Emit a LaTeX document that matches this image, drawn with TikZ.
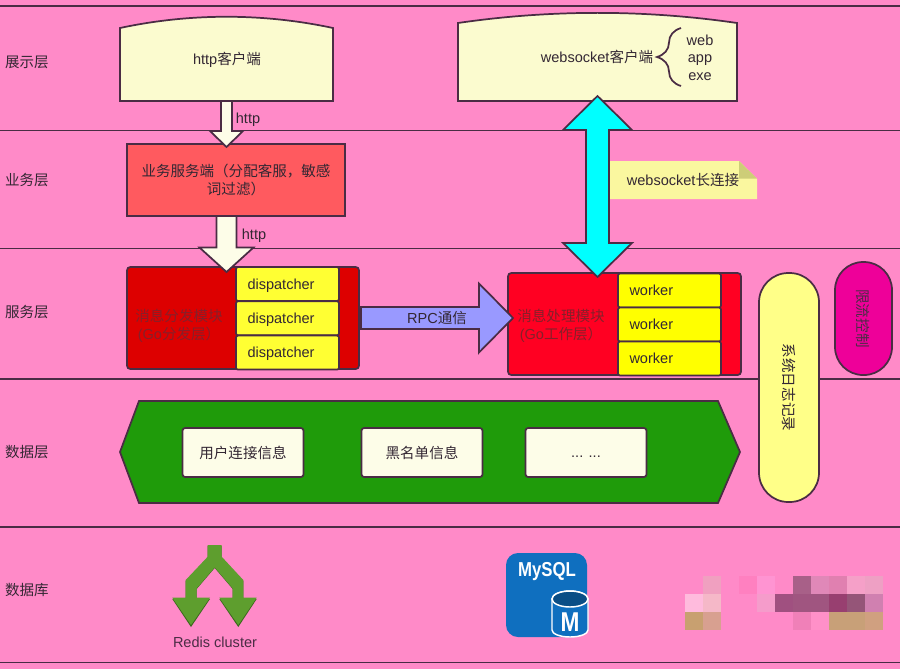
\documentclass[tikz,border=0pt]{standalone}
\usepackage{fontspec}
\setmainfont{Liberation Sans}
\newfontfamily\cjk{Noto Sans CJK SC}
\usetikzlibrary{calc,decorations.pathreplacing}
\definecolor{pinkbg}{HTML}{FF8AC8}
\definecolor{edge}{HTML}{4A2C44}
\definecolor{inkdark}{HTML}{332733}
\definecolor{cream}{HTML}{FBFBCF}
\definecolor{whitish}{HTML}{FDFDE8}
\definecolor{bizred}{HTML}{FF5A5F}
\definecolor{darkred}{HTML}{DD0000}
\definecolor{brightred}{HTML}{FF0022}
\definecolor{redink}{HTML}{85202A}
\definecolor{leafgreen}{HTML}{1F9B0A}
\definecolor{redisgreen}{HTML}{5E9E2E}
\definecolor{mysqlblue}{HTML}{0F6FBF}
\definecolor{softyellow}{HTML}{FFFF33}
\definecolor{pureyellow}{HTML}{FFFF00}
\definecolor{paleyellow}{HTML}{FFFF88}
\definecolor{notefill}{HTML}{FAF79F}
\definecolor{notefold}{HTML}{CDCD78}
\definecolor{aqua}{HTML}{00FFFF}
\definecolor{rpcblue}{HTML}{9999FF}
\definecolor{hotpink}{HTML}{EE0099}
\newcommand{\zh}[1]{{\cjk #1}}
\newcommand{\capbox}[3]{%
    \fill[cream] (#1.north west) .. controls +(#2,-#3) and +(-#2,-#3) .. (#1.north east) -- cycle;
    \draw[border] (#1.south west) -- (#1.north west) .. controls +(#2,-#3) and +(-#2,-#3) .. (#1.north east) -- (#1.south east) -- cycle;}
\tikzset{
    every node/.style={font=\fontsize{10.9}{13.5}\selectfont,text=inkdark,inner sep=0pt,outer sep=0pt},
    border/.style={draw=edge,line width=1.3pt,line join=miter},
    size/.style 2 args={minimum width=#1*0.75pt,minimum height=#2*0.75pt},
    layerline/.style={draw=edge,line width=1.4pt},
    layertext/.style={anchor=west},
    latinline/.style={text height=10pt,text depth=2.5pt},
    modulebox/.style={border,rounded corners=2.5pt},
    cell/.style={border,rounded corners=1.5pt,fill=#1,size={103}{34},latinline,align=left,text width=60pt,inner xsep=8.6pt},
    infobox/.style={border,rounded corners=2pt,fill=whitish,size={121}{49}},
    blockarrow/.style n args={3}{border,to path={
        ($(\tikztostart)!#1*0.75pt!90:(\tikztotarget)$)
        -- ($(\tikztotarget)!#3*0.75pt!(\tikztostart)!#1*0.75pt!90:(\tikztotarget)$)
        -- ($(\tikztotarget)!#3*0.75pt!(\tikztostart)!#2*0.75pt!90:(\tikztotarget)$)
        -- (\tikztotarget)
        -- ($(\tikztotarget)!#3*0.75pt!(\tikztostart)!#2*0.75pt!-90:(\tikztotarget)$)
        -- ($(\tikztotarget)!#3*0.75pt!(\tikztostart)!#1*0.75pt!-90:(\tikztotarget)$)
        -- ($(\tikztostart)!#1*0.75pt!-90:(\tikztotarget)$) -- cycle}},
    bothways/.style n args={3}{border,to path={
        (\tikztostart)
        -- ($(\tikztostart)!#3*0.75pt!(\tikztotarget)!#2*0.75pt!90:(\tikztotarget)$)
        -- ($(\tikztostart)!#3*0.75pt!(\tikztotarget)!#1*0.75pt!90:(\tikztotarget)$)
        -- ($(\tikztotarget)!#3*0.75pt!(\tikztostart)!#1*0.75pt!90:(\tikztotarget)$)
        -- ($(\tikztotarget)!#3*0.75pt!(\tikztostart)!#2*0.75pt!90:(\tikztotarget)$)
        -- (\tikztotarget)
        -- ($(\tikztotarget)!#3*0.75pt!(\tikztostart)!#2*0.75pt!-90:(\tikztotarget)$)
        -- ($(\tikztotarget)!#3*0.75pt!(\tikztostart)!#1*0.75pt!-90:(\tikztotarget)$)
        -- ($(\tikztostart)!#3*0.75pt!(\tikztotarget)!#1*0.75pt!-90:(\tikztotarget)$)
        -- ($(\tikztostart)!#3*0.75pt!(\tikztotarget)!#2*0.75pt!-90:(\tikztotarget)$) -- cycle}},
}
\begin{document}
\begin{tikzpicture}[x=0.75pt,y=-0.75pt]
    \useasboundingbox (0,0) rectangle (900,669);
    \fill[pinkbg] (0,0) rectangle (900,669);
    \foreach \yy in {6,130.5,248.5,379,527,662.5}
        \draw[layerline] (0,\yy) -- (900,\yy);
    \draw (5,62) node[layertext] (show) {\zh{展示层}}
        ++(0,118) node[layertext] (biz) {\zh{业务层}}
        ++(0,132) node[layertext] (serve) {\zh{服务层}}
        ++(0,140) node[layertext] (data) {\zh{数据层}}
        ++(0,138) node[layertext] (store) {\zh{数据库}};

    \node[fill=cream,size={213}{73}] (httpclient) at (226.5,64.5) {};
    \capbox{httpclient}{70}{15}
    \node (httptext) at (227,60) {http\zh{客户端}};
    \node[fill=cream,size={279}{78}] (wsclient) at (597.5,62) {};
    \capbox{wsclient}{92}{13.5}
    \node (wstext) at (597,57) {websocket\zh{客户端}};
    \draw (700,40) node[latinline] (web) {web}
        ++(0,17.5) node[latinline] (app) {app}
        ++(0,17.5) node[latinline] (exe) {exe};
    \draw[draw=edge,line width=1.3pt,decorate,decoration={brace,amplitude=18pt}] (681,86) -- (681,28);

    \node[border,fill=bizred,size={218}{72},align=center] (bizserver) at (236,180)
        {\zh{业务服务端（分配客服，敏感}\\\zh{词过滤）}};

    \begin{scope}
        \node[modulebox,fill=darkred,size={232}{102}] (dispatchmod) at (243,318) {};
        \node[align=center,text=redink] (dispatchtext) at (179,326) {\zh{消息分发模块}\\(Go\zh{分发层）}};
        \draw (287.5,284) node[cell=softyellow] (d1) {dispatcher}
            ++(0,34.3) node[cell=softyellow] (d2) {dispatcher}
            ++(0,34.3) node[cell=softyellow] (d3) {dispatcher};
    \end{scope}
    \begin{scope}
        \node[modulebox,fill=brightred,size={233}{102}] (workermod) at (624.5,324) {};
        \node[align=center,text=redink] (workertext) at (561,326) {\zh{消息处理模块}\\(Go\zh{工作层）}};
        \draw (669.5,290.5) node[cell=pureyellow] (w1) {worker}
            ++(0,34) node[cell=pureyellow] (w2) {worker}
            ++(0,34) node[cell=pureyellow] (w3) {worker};
    \end{scope}

    \coordinate (tip1) at ($(bizserver.north -| httpclient.south)+(0,3)$);
    \coordinate (tail2) at (bizserver.south -| httpclient.south);
    \coordinate (tip2) at ($(dispatchmod.north -| httpclient.south)+(0,5)$);
    \coordinate (wstop) at ($(wsclient.south)+(0,-5)$);
    \coordinate (wsbottom) at ($(workermod.north -| wsclient.south)+(0,4)$);
    \coordinate (rpctail) at ($(dispatchmod.east)+(2,0)$);
    \coordinate (rpctip) at ($(rpctail -| workermod.west)+(5,0)$);
    \draw[blockarrow={5.5}{16.5}{16},fill=whitish] (httpclient.south) to (tip1);
    \draw[blockarrow={10}{27}{24.5},fill=whitish] (tail2) to (tip2);
    \draw[bothways={11.5}{34.5}{34},fill=aqua] (wstop) to (wsbottom);
    \draw[blockarrow={11}{34.5}{34},fill=rpcblue] (rpctail) to (rpctip);
    \node (rpctext) at (437,318) {RPC\zh{通信}};
    \node (http1) at (248,120) {http};
    \node (http2) at (254,236) {http};

    \fill[notefill] (610,161) -- (739,161) -- (757,178.5) -- (757,199) -- (610,199) -- cycle;
    \fill[notefold] (739,161) -- (757,178.5) -- (739,178.5) -- cycle;
    \node (longconn) at (683,180) {websocket\zh{长连接}};

    \draw[border,fill=leafgreen] (120,452) -- (139,401) -- (718,401) -- (740,452) -- (718,503) -- (139,503) -- cycle;
    \node[infobox] (conninfo) at (243,452.5) {\zh{用户连接信息}};
    \node[infobox] (blackinfo) at (422,452.5) {\zh{黑名单信息}};
    \node[infobox,latinline] (moreinfo) at (586,452.5) {... ...};

    \node[border,fill=paleyellow,rounded corners=22pt,size={229}{60},rotate=-90] (logbar) at (789,387.5) {\zh{系统日志记录}};
    \node[border,fill=hotpink,rounded corners=21pt,size={113}{57},rotate=-90,text=edge] (limitbar) at (863.5,318.5) {\zh{限流控制}};

    \fill[redisgreen!65!black] (207.7,546) -- (221.7,546) -- (221.7,558) -- (243.3,581) -- (243.3,599) -- (256.7,599) -- (238.3,627) -- (219.3,599) -- (232.7,599) -- (232.7,589) -- (214.7,568) -- (196.7,589) -- (196.7,599) -- (210,599) -- (191,627) -- (172.3,599) -- (185.7,599) -- (185.7,581) -- (207.7,558) -- cycle;
    \fill[redisgreen] (207.7,545) -- (221.7,545) -- (221.7,556.7) -- (243.3,580) -- (243.3,597.7) -- (256.7,597.7) -- (238.3,625) -- (219.3,597.7) -- (232.7,597.7) -- (232.7,588.3) -- (214.7,567.3) -- (196.7,588.3) -- (196.7,597.7) -- (210,597.7) -- (191,625) -- (172.3,597.7) -- (185.7,597.7) -- (185.7,580) -- (207.7,556.7) -- cycle;
    \node[text=edge] (redis) at (215,642) {Redis cluster};

    \fill[mysqlblue,rounded corners=9pt] (506,553) rectangle (587,637);
    \node[text=white,font=\fontsize{12.6}{14}\selectfont\bfseries] (mysql) at (547,572) {\scalebox{1}[1.2]{MySQL}};
    \draw[white,line width=1.1pt,fill=mysqlblue] (552,599) -- (552,630) arc[start angle=180,end angle=0,x radius=18,y radius=7] -- (588,599) arc[start angle=0,end angle=-180,x radius=18,y radius=8] -- cycle;
    \draw[white,line width=1.1pt,fill=mysqlblue!70!black] (570,599) ellipse[x radius=18,y radius=8];
    \node[text=white,font=\fontsize{17}{18}\selectfont\bfseries] (mysqlm) at (570,622) {\scalebox{1}[1.2]{M}};

    \foreach \xx/\yy/\col in {703/576/F0A0C0,739/576/FF80C0,757/576/FF94D2,793/576/A86088,811/576/E088B8,829/576/E080B0,847/576/F5A0C8,865/576/EEA0C4,
        685/594/FFBBDD,703/594/F5B8C8,757/594/F59CCB,775/594/A05080,793/594/A05580,811/594/A05580,829/594/983F70,847/594/955578,865/594/D080B0,
        685/612/C8A070,703/612/D8A090,793/612/F080B8,811/612/FF90C8,829/612/C8A078,847/612/C8A078,865/612/D0A080} {
        \definecolor{blurcell}{HTML}{\col}
        \fill[blurcell] (\xx,\yy) rectangle ++(18,18);
    }
\end{tikzpicture}
\end{document}
